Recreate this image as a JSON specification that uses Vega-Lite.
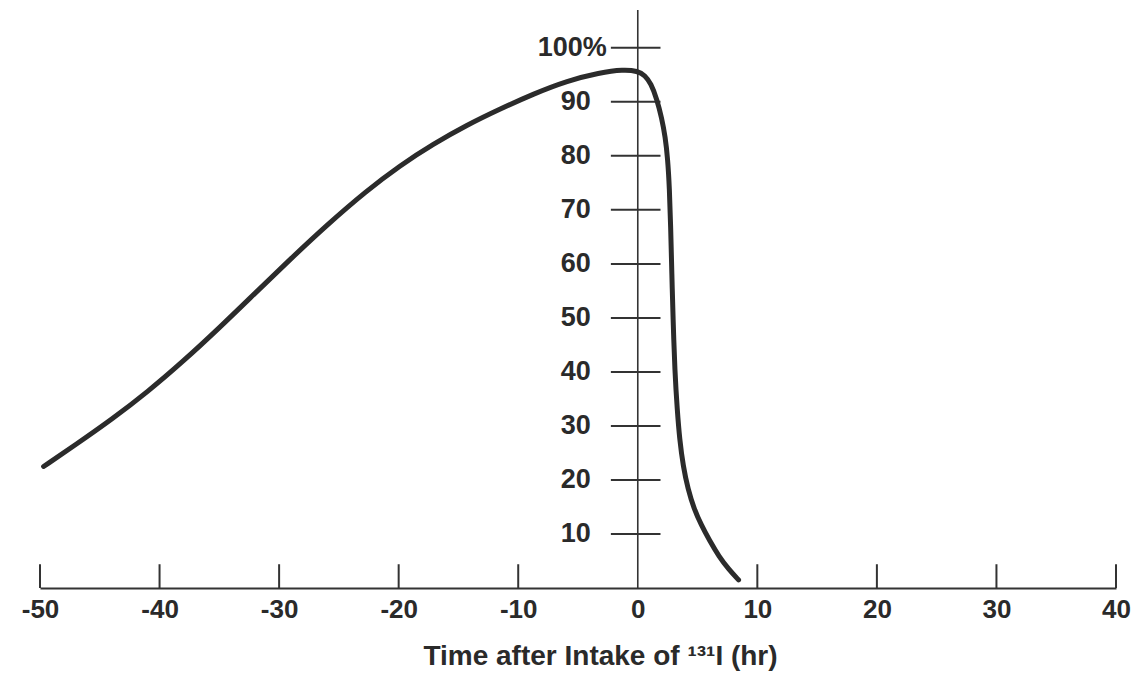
{
  "$schema": "https://vega.github.io/schema/vega-lite/v6.json",
  "width": 1076,
  "height": 578,
  "autosize": "none",
  "padding": {"left": 40, "top": 10, "right": 15, "bottom": 89},
  "background": "white",
  "config": {"view": {"stroke": null}, "font": "Liberation Sans"},
  "datasets": {
    "curve": [
      {"t": -49.7, "pct": 22.5},
      {"t": -47, "pct": 26.55},
      {"t": -44, "pct": 31.2},
      {"t": -41, "pct": 36.3},
      {"t": -38, "pct": 42.0},
      {"t": -35, "pct": 48.15},
      {"t": -32, "pct": 54.6},
      {"t": -29, "pct": 61.0},
      {"t": -26, "pct": 67.2},
      {"t": -22.7, "pct": 73.5},
      {"t": -19.9, "pct": 78.2},
      {"t": -17.1, "pct": 82.2},
      {"t": -14.3, "pct": 85.7},
      {"t": -11.5, "pct": 88.7},
      {"t": -8.7, "pct": 91.5},
      {"t": -5.9, "pct": 93.9},
      {"t": -3.2, "pct": 95.4},
      {"t": -1.2, "pct": 96.0},
      {"t": 0.0, "pct": 95.7},
      {"t": 0.6, "pct": 94.9},
      {"t": 1.1, "pct": 93.4},
      {"t": 1.6, "pct": 90.5},
      {"t": 2.0, "pct": 87.0},
      {"t": 2.3, "pct": 83.5},
      {"t": 2.5, "pct": 79.5},
      {"t": 2.65, "pct": 74.0},
      {"t": 2.75, "pct": 67.0},
      {"t": 2.85, "pct": 58.0},
      {"t": 2.95, "pct": 50.0},
      {"t": 3.1, "pct": 40.0},
      {"t": 3.3, "pct": 33.0},
      {"t": 3.5, "pct": 27.5},
      {"t": 3.8, "pct": 22.5},
      {"t": 4.2, "pct": 18.3},
      {"t": 4.7, "pct": 14.7},
      {"t": 5.3, "pct": 11.7},
      {"t": 6.0, "pct": 8.8},
      {"t": 6.8, "pct": 5.8},
      {"t": 7.6, "pct": 3.5},
      {"t": 8.43, "pct": 1.5}
    ],
    "xticks": [
      {"t": -50}, {"t": -40}, {"t": -30}, {"t": -20}, {"t": -10},
      {"t": 10}, {"t": 20}, {"t": 30}, {"t": 40}
    ],
    "yticks": [
      {"v": 10, "label": "10"}, {"v": 20, "label": "20"}, {"v": 30, "label": "30"},
      {"v": 40, "label": "40"}, {"v": 50, "label": "50"}, {"v": 60, "label": "60"},
      {"v": 70, "label": "70"}, {"v": 80, "label": "80"}, {"v": 90, "label": "90"},
      {"v": 100, "label": "100%"}
    ]
  },
  "layer": [
    {
      "data": {"name": "xticks"},
      "mark": {"type": "rule", "color": "#333333", "strokeWidth": 2},
      "encoding": {
        "x": {
          "field": "t", "type": "quantitative",
          "scale": {"domain": [-50, 40], "nice": false, "zero": false},
          "axis": {
            "values": [-50, -40, -30, -20, -10, 0, 10, 20, 30, 40],
            "labelExpr": "'' + datum.value",
            "grid": false,
            "ticks": false,
            "tickSize": 0,
            "domain": true,
            "domainColor": "#333333",
            "domainWidth": 2,
            "labelFont": "Liberation Sans",
            "labelFontSize": 26,
            "labelFontWeight": "bold",
            "labelColor": "#2a2a2a",
            "labelBaseline": "alphabetic",
            "labelPadding": 29,
            "labelFlush": false,
            "labelOverlap": false,
            "title": "Time after Intake of ¹³¹I (hr)",
            "titleFont": "Liberation Sans",
            "titleFontSize": 28,
            "titleFontWeight": "bold",
            "titleColor": "#2a2a2a",
            "titleAnchor": null,
            "titleAlign": "center",
            "titleBaseline": "alphabetic",
            "titleX": 560,
            "titleY": 76
          }
        },
        "y": {"datum": 0, "type": "quantitative", "scale": {"domain": [0, 107], "nice": false}, "axis": null},
        "y2": {"datum": 4.4}
      }
    },
    {
      "data": {"values": [{"a": 1}]},
      "mark": {"type": "rule", "color": "#333333", "strokeWidth": 1.6},
      "encoding": {
        "x": {"datum": 0, "type": "quantitative"},
        "y": {"datum": 0, "type": "quantitative"},
        "y2": {"datum": 107}
      }
    },
    {
      "data": {"name": "yticks"},
      "mark": {"type": "rule", "color": "#333333", "strokeWidth": 2},
      "encoding": {
        "x": {"datum": -2.25, "type": "quantitative"},
        "x2": {"datum": 1.9},
        "y": {"field": "v", "type": "quantitative"}
      }
    },
    {
      "data": {"name": "yticks"},
      "transform": [{"filter": "datum.v < 100"}],
      "mark": {"type": "text", "align": "right", "baseline": "middle", "dx": -47, "font": "Liberation Sans", "fontSize": 27, "fontWeight": "bold", "color": "#2a2a2a"},
      "encoding": {
        "x": {"datum": 0, "type": "quantitative"},
        "y": {"field": "v", "type": "quantitative"},
        "text": {"field": "label"}
      }
    },
    {
      "data": {"name": "yticks"},
      "transform": [{"filter": "datum.v == 100"}],
      "mark": {"type": "text", "align": "right", "baseline": "middle", "dx": -31, "font": "Liberation Sans", "fontSize": 27, "fontWeight": "bold", "color": "#2a2a2a"},
      "encoding": {
        "x": {"datum": 0, "type": "quantitative"},
        "y": {"field": "v", "type": "quantitative"},
        "text": {"field": "label"}
      }
    },
    {
      "data": {"name": "curve"},
      "mark": {"type": "line", "color": "#2b2b2b", "strokeWidth": 5, "interpolate": "basis", "strokeCap": "round"},
      "encoding": {
        "x": {"field": "t", "type": "quantitative"},
        "y": {"field": "pct", "type": "quantitative"}
      }
    }
  ]
}
